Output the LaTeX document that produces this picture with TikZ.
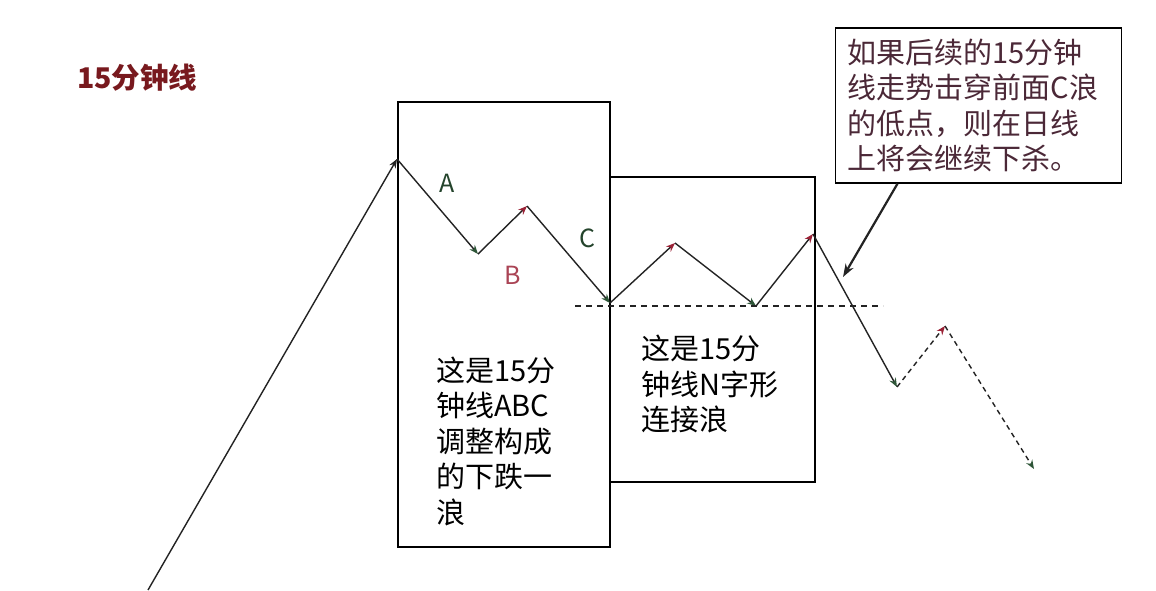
\documentclass[tikz,border=0pt]{standalone}
\usepackage{fontspec}
\setmainfont{Noto Sans CJK SC}
\usetikzlibrary{arrows.meta}
\definecolor{wave}{RGB}{35,35,35}
\definecolor{upred}{RGB}{155,35,55}
\definecolor{downgreen}{RGB}{45,85,55}
\definecolor{titlered}{RGB}{120,25,30}
\definecolor{notetext}{RGB}{75,40,55}
\begin{document}
\begin{tikzpicture}[x=1pt,y=-1pt,
    up/.style={draw=wave,line width=1.4pt,-{Stealth[length=9pt,width=7pt,color=upred]}},
    down/.style={draw=wave,line width=1.4pt,-{Stealth[length=9pt,width=7pt,color=downgreen]}},
    dashup/.style={up,dash pattern=on 5pt off 4pt},
    dashdown/.style={down,dash pattern=on 5pt off 4pt},
    box/.style={draw=black,line width=1.5pt},
    txt/.style={anchor=west,inner sep=0pt,align=left,font=\fontsize{29}{35.5}\selectfont}]
    \useasboundingbox[fill=white] (0,0) rectangle (1156,590);
    % the two boxes
    \draw[box] (398,102) rectangle (610,547);
    \draw[box] (610,177) rectangle (815,482);
    % wave points
    \coordinate (start) at (148,590);
    \coordinate (top) at (397,159);
    \coordinate (a) at (478,254);
    \coordinate (b) at (527,206);
    \coordinate (c) at (610,303);
    \coordinate (n1) at (675,243);
    \coordinate (n2) at (756,306);
    \coordinate (n3) at (813,234);
    \coordinate (d1) at (897,387);
    \coordinate (d2) at (945,326);
    \coordinate (d3) at (1034,469);
    \coordinate (lowL) at (575,306);
    \coordinate (lowR) at (883,306);
    \coordinate (tip) at (843,277);
    \begin{scope}[every node/.style={font=\fontsize{25}{28}\selectfont}]
      \node[text=downgreen!80!black] (lblA) at (447,183) {A};
      \node[text=upred!85!white] (lblB) at (513,275) {B};
      \node[text=downgreen!80!black] (lblC) at (587,238) {C};
    \end{scope}
    \node[anchor=west,inner sep=0pt,text=titlered,font=\bfseries\fontsize{28.5}{30}\selectfont] (title) at (77,78) {15分钟线};
    \node[txt] (abc) at (436,441) {这是15分\\钟线ABC\\调整构成\\的下跌一\\浪};
    \node[txt] (nshape) at (641,384) {这是15分\\钟线N字形\\连接浪};
    \node[draw=black,line width=1.3pt,text=notetext,align=left,text width=262pt,inner xsep=12pt,minimum height=155pt,font=\fontsize{29}{35.5}\selectfont] (note) at (978.5,105.5) {如果后续的15分钟\\线走势击穿前面C浪\\的低点，则在日线\\上将会继续下杀。};
    \begin{scope}[every edge/.style={draw=wave}]
      \path (start) edge[line width=1.4pt,-{Stealth[length=9pt,width=7pt]}] (top);
      \path (top) edge[down] (a);
      \path (a) edge[up] (b);
      \path (b) edge[down] (c);
      \path (c) edge[up] (n1);
      \path (n1) edge[down] (n2);
      \path (n2) edge[up] (n3);
      \path (n3) edge[down] (d1);
      \path (d1) edge[dashup] (d2);
      \path (d2) edge[dashdown] (d3);
      \path (lowL) edge[line width=1.4pt,dash pattern=on 6pt off 5pt] (lowR);
      \path ([xshift=-81pt]note.south) edge[line width=2.2pt,-{Stealth[length=13pt,width=9pt]}] (tip);
    \end{scope}
\end{tikzpicture}
\end{document}
